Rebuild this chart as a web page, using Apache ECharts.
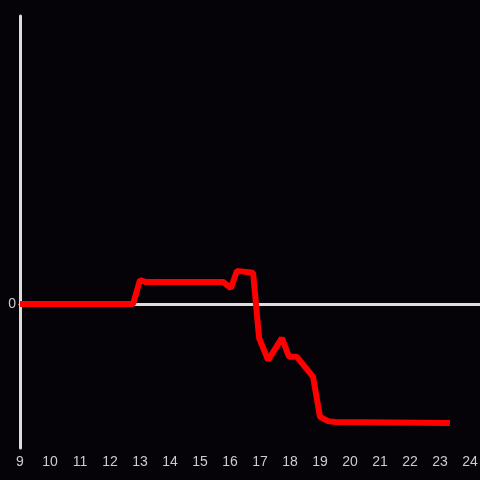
<!DOCTYPE html>
<html>
<head>
<meta charset="utf-8">
<script src="https://cdn.jsdelivr.net/npm/echarts@6/dist/echarts.min.js"></script>
<style>
  html, body { margin: 0; padding: 0; background: #050308; }
  #main { width: 480px; height: 480px; }
</style>
</head>
<body>
<div id="main"></div>
<script>
var myChart = echarts.init(document.getElementById('main'));

// hour of day
var hours = [9, 12.77, 13.0, 13.17, 15.77, 16.03, 16.23, 16.77, 16.97, 17.27,
             17.73, 17.97, 18.23, 18.77, 19.0, 19.27, 19.5, 23.33];
// value (relative units)
var values = [0, 0, 0.5, 0.46, 0.46, 0.33, 0.69, 0.65, -0.71, -1.17,
              -0.71, -1.1, -1.1, -1.52, -2.35, -2.44, -2.46, -2.48];

var data = hours.map(function (h, i) { return [h, values[i]]; });

var option = {
    backgroundColor: '#050308',
    grid: {
        left: 20,
        right: 0,
        top: 16,
        bottom: 32,
        outerBoundsMode: 'none'
    },
    xAxis: [{
        type: 'value',
        min: 9,
        max: 24.333,
        interval: 1,
        axisLine: { show: false, onZero: false },
        axisTick: { show: false },
        splitLine: { show: false },
        axisLabel: {
            color: '#cccccc',
            fontSize: 14,
            margin: 7,
            formatter: function (v) { return v % 1 === 0 ? v : ''; }
        }
    }, {
        // zero line
        type: 'value',
        min: 9,
        max: 24.333,
        axisLine: { show: true, onZero: true, lineStyle: { color: '#dddddd', width: 3 } },
        axisTick: { show: false },
        axisLabel: { show: false },
        splitLine: { show: false }
    }],
    yAxis: {
        type: 'value',
        min: -3,
        max: 6,
        interval: 3,
        axisLine: { show: true, onZero: false, lineStyle: { color: '#dddddd', width: 3 } },
        axisTick: { show: false },
        splitLine: { show: false },
        axisLabel: {
            color: '#cccccc',
            fontSize: 14,
            margin: 4,
            formatter: function (v) { return v === 0 ? '0' : ''; }
        }
    },
    series: [{
        type: 'line',
        data: data,
        showSymbol: false,
        symbol: 'none',
        lineStyle: { color: '#ff0000', width: 6 },
        z: 5
    }]
};
myChart.setOption(option);
</script>
</body>
</html>
